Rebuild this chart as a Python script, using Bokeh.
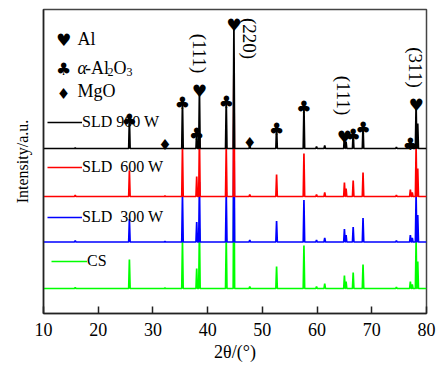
from bokeh.plotting import figure
from bokeh.models import Range1d, FixedTicker, Label, Legend, LegendItem, ColumnDataSource
from bokeh.core.properties import value
from bokeh.embed import file_html
from bokeh.resources import INLINE

# ---- data ----
# peak positions, 2theta (deg)
peaks = [15.8, 25.7, 32.2, 35.4, 38.0, 38.5, 43.4, 44.8, 47.7, 52.6, 57.6, 59.9,
         61.4, 65.0, 65.3, 66.6, 68.4, 74.5, 77.05, 77.4, 78.1, 78.4]
# peak intensities (a.u.) for each sample
h_900 = [0.5, 31, 0.5, 48, 17, 60, 49, 126, 3, 22, 44, 2, 3, 14, 7, 16, 23, 1.5, 7, 4, 46, 25]
h_600 = [1.5, 26, 0.5, 50, 20, 60, 50, 139, 2, 22, 43, 2, 4, 14, 8, 16, 24, 1.5, 7, 4, 50, 28]
h_300 = [1.5, 23, 0.5, 48, 20, 60, 50, 135, 2, 21, 42, 2, 4, 13, 7, 15, 24, 1.5, 7, 4, 48, 27]
h_cs = [1.0, 29, 0.5, 48, 20, 60, 50, 135, 2, 22, 43, 2, 5, 13, 7, 16, 24, 1.5, 7, 4, 48, 27]
series_names = ["SLD 900 W", "SLD  600 W", "SLD  300 W", "CS"]
series_heights = [h_900, h_600, h_300, h_cs]
series_offsets = [165, 117, 71.5, 25]
series_colors = ["black", "#ff0000", "#0000ff", "#00ff00"]

# phase identification on the SLD 900 W pattern
al_peaks = [38.5, 44.8, 65.0, 78.1]
al2o3_peaks = [25.7, 35.4, 38.0, 43.4, 52.6, 57.6, 66.6, 68.4, 77.05]
mgo_peaks = [32.2, 47.7]
hkl_labels = ["(111)", "(220)", "(111)", "(311)"]

x_ticks = [10, 20, 30, 40, 50, 60, 70, 80]

HALF = 0.13


def pattern(heights, offset):
    xs, ys = [10.0], [offset]
    for x0, h in zip(peaks, heights):
        xs += [x0 - HALF, x0, x0 + HALF]
        ys += [offset, offset + h, offset]
    xs.append(80.0)
    ys.append(offset)
    return xs, ys


def height_at(x0):
    return series_offsets[0] + h_900[peaks.index(x0)]


p = figure(width=441, height=365, output_backend="svg", toolbar_location=None,
           x_range=Range1d(10, 80), y_range=Range1d(0, 304),
           min_border_left=43, min_border_right=15, min_border_top=9, min_border_bottom=52)
p.xgrid.visible = False
p.ygrid.visible = False
p.outline_line_color = "#444444"
p.outline_line_width = 1.5
p.background_fill_color = "white"

SERIF = "Liberation Serif"

# x axis
p.xaxis.ticker = FixedTicker(ticks=x_ticks)
p.xaxis.minor_tick_line_color = None
p.xaxis.major_tick_in = 7
p.xaxis.major_tick_out = 0
p.xaxis.major_tick_line_width = 1.5
p.xaxis.axis_line_width = 1.5
p.xaxis.axis_line_color = "#222222"
p.xaxis.major_tick_line_color = "#222222"
p.xaxis.major_label_text_font = SERIF
p.xaxis.major_label_text_font_size = "18px"
p.xaxis.major_label_text_color = "black"
p.xaxis.major_label_standoff = 9
p.xaxis.axis_label = "2θ/(°)"
p.xaxis.axis_label_text_font = SERIF
p.xaxis.axis_label_text_font_size = "18px"
p.xaxis.axis_label_text_font_style = "normal"
p.xaxis.axis_label_text_color = "black"
p.xaxis.axis_label_standoff = 3

# y axis
p.yaxis.ticker = FixedTicker(ticks=[])
p.yaxis.minor_tick_line_color = None
p.yaxis.major_tick_line_color = None
p.yaxis.axis_line_width = 1.5
p.yaxis.axis_line_color = "#222222"
p.yaxis.axis_label = "Intensity/a.u."
p.yaxis.axis_label_text_font = SERIF
p.yaxis.axis_label_text_font_size = "16px"
p.yaxis.axis_label_text_font_style = "normal"
p.yaxis.axis_label_text_color = "black"
p.yaxis.axis_label_standoff = 13

# patterns, lowest first so upper ones overlay
renderers = {}
for name, hs, off, col in reversed(list(zip(series_names, series_heights, series_offsets, series_colors))):
    xs, ys = pattern(hs, off)
    renderers[name] = p.line(xs, ys, line_color=col, line_width=1.7)

# series legends
leg_pos = {"SLD 900 W": (4, 182), "SLD  600 W": (4, 137), "SLD  300 W": (4, 87), "CS": (8, 43)}
for name in series_names:
    lg = Legend(items=[LegendItem(label=name, renderers=[renderers[name]])],
                location=leg_pos[name], glyph_width=35 if name != "CS" else 36, glyph_height=16,
                label_height=16, label_standoff=0, padding=0, margin=0, spacing=0,
                border_line_alpha=0, background_fill_alpha=0,
                label_text_font=SERIF, label_text_font_size="16px", label_text_color="black")
    p.add_layout(lg)

# phase markers
SYM = "DejaVu Sans"
src_al = ColumnDataSource(dict(x=al_peaks, y=[height_at(x) for x in al_peaks], t=["♥"] * len(al_peaks)))
src_ao = ColumnDataSource(dict(x=al2o3_peaks, y=[height_at(x) for x in al2o3_peaks], t=["♣"] * len(al2o3_peaks)))
src_mg = ColumnDataSource(dict(x=mgo_peaks, y=[height_at(x) for x in mgo_peaks], t=["♦"] * len(mgo_peaks)))
for src, yoff, fs in ((src_al, 2, "17px"), (src_ao, 2, "17px"), (src_mg, -3, "15px")):
    p.text(x="x", y="y", text="t", source=src, text_font=value(SYM), text_font_size=fs,
           text_align="center", text_baseline="alphabetic", y_offset=yoff, text_color="black")

# hkl labels (rotated)
hkl_pos = [(38.55, 260), (47.64, 275), (64.8, 218), (77.96, 246)]
for txt, (lx, ly) in zip(hkl_labels, hkl_pos):
    p.add_layout(Label(x=lx, y=ly, text=txt, angle=-1.5708, text_align="center", text_baseline="middle",
                       text_font=SERIF, text_font_size="19px", text_color="black"))


# phase legend (top-left)
def dx(px):
    return 10 + (px - 42.9) / 5.475


def dy(py):
    return 313 - py


for sym, sy, fs in (("♥", 39, "17px"), ("♣", 68, "17px"), ("♦", 93, "15px")):
    p.add_layout(Label(x=dx(63), y=dy(sy), text=sym, text_align="center", text_baseline="alphabetic",
                       text_font=SYM, text_font_size=fs, text_color="black"))
p.add_layout(Label(x=dx(77), y=dy(38), text="Al", text_baseline="alphabetic",
                   text_font=SERIF, text_font_size="18px", text_color="black"))
p.add_layout(Label(x=dx(77), y=dy(67), text="α", text_baseline="alphabetic",
                   text_font=SERIF, text_font_size="18px", text_font_style="italic", text_color="black"))
p.add_layout(Label(x=dx(84.5), y=dy(67), text="-Al", text_baseline="alphabetic",
                   text_font=SERIF, text_font_size="18px", text_color="black"))
p.add_layout(Label(x=dx(107), y=dy(71), text="2", text_baseline="alphabetic",
                   text_font=SERIF, text_font_size="12px", text_color="black"))
p.add_layout(Label(x=dx(113), y=dy(67), text="O", text_baseline="alphabetic",
                   text_font=SERIF, text_font_size="18px", text_color="black"))
p.add_layout(Label(x=dx(126), y=dy(71), text="3", text_baseline="alphabetic",
                   text_font=SERIF, text_font_size="12px", text_color="black"))
p.add_layout(Label(x=dx(77), y=dy(90), text="MgO", text_baseline="alphabetic",
                   text_font=SERIF, text_font_size="18px", text_color="black"))

open("out.html", "w").write(file_html(p, INLINE))
